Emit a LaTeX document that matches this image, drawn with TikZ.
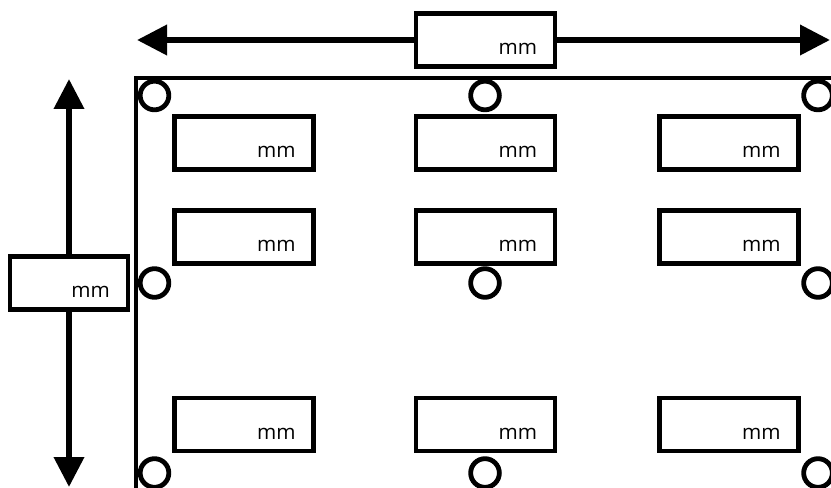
\documentclass[tikz,border=0pt]{standalone}
\usepackage{fontspec}
\setsansfont{Open Sans}
\usetikzlibrary{arrows.meta}

\tikzset{
  mmbox/.style={draw, line width=3.3pt, text width=#1, align=right,
    inner xsep=13.5pt, inner ysep=0pt, text height=22pt, text depth=0pt,
    minimum height=39.5pt, font=\sffamily\fontsize{15.5}{17}\selectfont},
  mmbox/.default=77.5pt,
  hole/.style={draw, circle, line width=3.6pt, minimum size=21.5pt, inner sep=0pt},
  dimarrow/.style={->, line width=4.4pt},
}

\begin{document}
\begin{tikzpicture}[>={Triangle[length=22.5pt,width=22pt]}, x=0.75pt, y=-0.75pt]

    \useasboundingbox (0,0) rectangle (831,488);

    % plate
    \draw[line width=3.4pt] (136,500) -- (136,78) -- (845,78);

    \node[hole] (h11) at (154.5,95.5) {};
    \node[hole] (h12) at (485,95.5) {};
    \node[hole] (h13) at (818,95.5) {};
    \node[hole] (h21) at (154.5,283) {};
    \node[hole] (h22) at (485,283) {};
    \node[hole] (h23) at (818,283) {};
    \node[hole] (h31) at (154.5,473) {};
    \node[hole] (h32) at (485,473) {};
    \node[hole] (h33) at (818,473) {};

    \node[mmbox] (b11) at (244,143) {mm};
    \node[mmbox] (b12) at (485.5,143) {mm};
    \node[mmbox] (b13) at (729,143) {mm};
    \node[mmbox] (b21) at (244,237) {mm};
    \node[mmbox] (b22) at (485.5,237) {mm};
    \node[mmbox] (b23) at (729,237) {mm};
    \node[mmbox] (b31) at (244,424.5) {mm};
    \node[mmbox] (b32) at (485.5,424.5) {mm};
    \node[mmbox] (b33) at (729,424.5) {mm};

    % dimensions
    \node[mmbox] (wbox) at (485.5,40) {mm};
    \node[mmbox=61.2pt] (hbox) at (69,283) {mm};

    \coordinate (wleft) at (137,40);
    \coordinate (wright) at (830,40);
    \coordinate (htop) at (69,79);
    \coordinate (hbottom) at (69,487);

    \draw[dimarrow] (wbox) -- (wleft);
    \draw[dimarrow] (wbox) -- (wright);
    \draw[dimarrow] (hbox) -- (htop);
    \draw[dimarrow] (hbox) -- (hbottom);

\end{tikzpicture}
\end{document}
